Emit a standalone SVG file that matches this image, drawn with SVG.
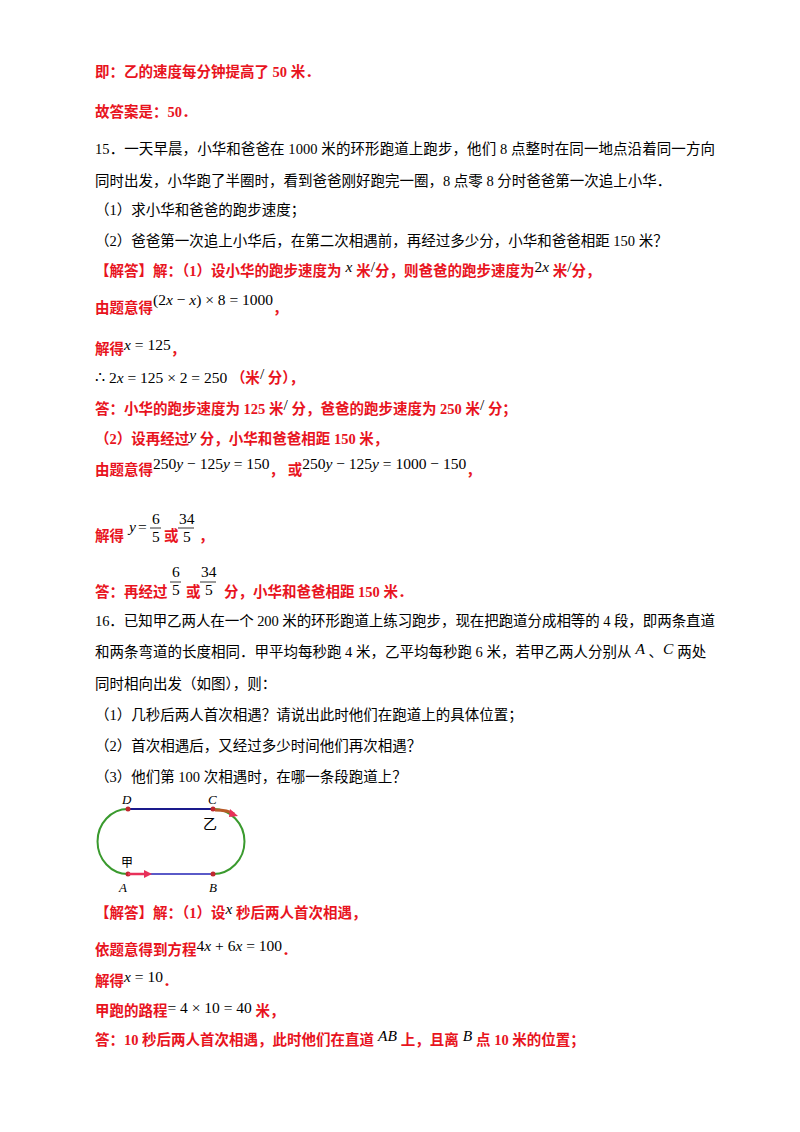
<svg xmlns="http://www.w3.org/2000/svg" width="800" height="1132" viewBox="0 0 800 1132">
<style>
text{font-family:"Liberation Serif","Noto Sans CJK SC",serif;font-size:14.5px;fill:#000}
.r{fill:#e8141e;font-weight:bold}
.m{font-family:"Liberation Serif",serif;font-weight:normal;fill:#000;font-size:15.5px}
.mi{font-family:"Liberation Serif",serif;font-style:italic;font-weight:normal;fill:#000;font-size:15.5px}
.lb{font-family:"Liberation Serif",serif;font-style:italic;font-size:13px}
</style>
<rect width="800" height="1132" fill="#fff"/>
<text class="r" x="95" y="77">即：乙的速度每分钟提高了 50 米．</text>
<text class="r" x="95" y="117">故答案是：50．</text>
<text x="95" y="154" textLength="620">15．一天早晨，小华和爸爸在 1000 米的环形跑道上跑步，他们 8 点整时在同一地点沿着同一方向</text>
<text x="95" y="186">同时出发，小华跑了半圈时，看到爸爸刚好跑完一圈，8 点零 8 分时爸爸第一次追上小华．</text>
<text x="95" y="215">（1）求小华和爸爸的跑步速度；</text>
<text x="95" y="246">（2）爸爸第一次追上小华后，在第二次相遇前，再经过多少分，小华和爸爸相距 150 米？</text>
<text class="r" x="95" y="276">【解答】解：（1）设小华的跑步速度为<tspan class="mi" dy="-4"> x </tspan><tspan dy="4">米</tspan><tspan class="m" dy="-4">/</tspan><tspan dy="4">分，则爸爸的跑步速度为</tspan><tspan class="m" dy="-4">2</tspan><tspan class="mi">x</tspan><tspan dy="4"> 米</tspan><tspan class="m" dy="-4">/</tspan><tspan dy="4">分，</tspan></text>
<text class="r" x="95" y="313">由题意得<tspan class="m" dy="-8">(2</tspan><tspan class="mi">x</tspan><tspan class="m"> − </tspan><tspan class="mi">x</tspan><tspan class="m">) × 8 = 1000</tspan><tspan dy="8">，</tspan></text>
<text class="r" x="95" y="354">解得<tspan class="mi" dy="-4">x</tspan><tspan class="m"> = 125</tspan><tspan dy="4">，</tspan></text>
<text class="r" x="95" y="383"><tspan class="m">∴ 2</tspan><tspan class="mi">x</tspan><tspan class="m"> = 125 × 2 = 250</tspan> （米<tspan class="m" dy="-4">/</tspan><tspan dy="4"> 分），</tspan></text>
<text class="r" x="95" y="414">答：小华的跑步速度为 125 米<tspan class="m" dy="-4">/</tspan><tspan dy="4"> 分，爸爸的跑步速度为 250 米</tspan><tspan class="m" dy="-4">/</tspan><tspan dy="4"> 分；</tspan></text>
<text class="r" x="95" y="444">（2）设再经过<tspan class="mi" dy="-4">y</tspan><tspan dy="4"> 分，小华和爸爸相距 150 米，</tspan></text>
<text class="r" x="95" y="475">由题意得<tspan class="m" dy="-6">250</tspan><tspan class="mi">y</tspan><tspan class="m"> − 125</tspan><tspan class="mi">y</tspan><tspan class="m"> = 150</tspan><tspan dy="6">， 或</tspan><tspan class="m" dy="-6">250</tspan><tspan class="mi">y</tspan><tspan class="m"> − 125</tspan><tspan class="mi">y</tspan><tspan class="m"> = 1000 − 150</tspan><tspan dy="6">，</tspan></text>
<text class="r" x="95" y="541">解得</text>
<text class="mi" x="129" y="532">y</text><text class="m" x="138" y="532">=</text>
<text class="m" x="152" y="524">6</text><line x1="150" y1="528" x2="161" y2="528" stroke="#000" stroke-width="0.8"/><text class="m" x="152" y="542">5</text>
<text class="r" x="164" y="541">或</text>
<text class="m" x="179" y="524">34</text><line x1="178" y1="528" x2="194" y2="528" stroke="#000" stroke-width="0.8"/><text class="m" x="183" y="542">5</text>
<text class="r" x="199" y="541">，</text>
<text class="r" x="95" y="597">答：再经过</text>
<text class="m" x="172" y="577">6</text><line x1="170" y1="582" x2="181" y2="582" stroke="#000" stroke-width="0.8"/><text class="m" x="172" y="595">5</text>
<text class="r" x="186" y="597">或</text>
<text class="m" x="201" y="577">34</text><line x1="200" y1="582" x2="216" y2="582" stroke="#000" stroke-width="0.8"/><text class="m" x="205" y="595">5</text>
<text class="r" x="224" y="597">分，小华和爸爸相距 150 米．</text>
<text x="95" y="626" textLength="620">16．已知甲乙两人在一个 200 米的环形跑道上练习跑步，现在把跑道分成相等的 4 段，即两条直道</text>
<text x="95" y="657">和两条弯道的长度相同．甲平均每秒跑 4 米，乙平均每秒跑 6 米，若甲乙两人分别从<tspan class="mi" dy="-3"> A </tspan><tspan dy="3">、</tspan><tspan class="mi" dy="-3">C </tspan><tspan dy="3">两处</tspan></text>
<text x="95" y="689">同时相向出发（如图），则：</text>
<text x="95" y="720">（1）几秒后两人首次相遇？请说出此时他们在跑道上的具体位置；</text>
<text x="95" y="751">（2）首次相遇后，又经过多少时间他们再次相遇？</text>
<text x="95" y="782">（3）他们第 100 次相遇时，在哪一条段跑道上？</text>
<g id="track">
<path d="M128 809 A30 32 0 0 0 128 874" fill="none" stroke="#3a9a2e" stroke-width="2"/>
<path d="M213 809 A31 32 0 0 1 213 874" fill="none" stroke="#3a9a2e" stroke-width="2"/>
<line x1="128" y1="809" x2="213" y2="809" stroke="#1a1a8c" stroke-width="2"/>
<line x1="128" y1="874" x2="213" y2="874" stroke="#5a5ac8" stroke-width="2"/>
<circle cx="128" cy="809" r="2.5" fill="#c0282e"/><circle cx="213" cy="809" r="2.5" fill="#c0282e"/>
<circle cx="128" cy="874" r="2.5" fill="#c0282e"/><circle cx="213" cy="874" r="2.5" fill="#c0282e"/>
<path d="M128 874 H146" stroke="#e8305a" stroke-width="2.5"/><path d="M144 870 L152 874 L144 878 Z" fill="#e8305a"/>
<path d="M215 810 Q228 810 234 814" stroke="#b85a28" stroke-width="3" fill="none"/><path d="M230 809 L238 816 L229 817 Z" fill="#e8305a"/>
<text class="lb" x="122" y="804">D</text><text class="lb" x="208" y="804">C</text>
<text x="203" y="829" style="font-family:'Noto Sans CJK SC',sans-serif;font-size:14px">乙</text>
<text x="121" y="867" style="font-family:'Noto Sans CJK SC',sans-serif;font-size:12px">甲</text>
<text class="lb" x="119" y="892">A</text><text class="lb" x="209" y="892">B</text>
</g>
<text class="r" x="95" y="918">【解答】解：（1）设<tspan class="mi" dy="-4">x</tspan><tspan dy="4"> 秒后两人首次相遇，</tspan></text>
<text class="r" x="95" y="955">依题意得到方程<tspan class="m" dy="-4">4</tspan><tspan class="mi">x</tspan><tspan class="m"> + 6</tspan><tspan class="mi">x</tspan><tspan class="m"> = 100</tspan><tspan dy="4">．</tspan></text>
<text class="r" x="95" y="986">解得<tspan class="mi" dy="-4">x</tspan><tspan class="m"> = 10</tspan><tspan dy="4">．</tspan></text>
<text class="r" x="95" y="1016">甲跑的路程<tspan class="m" dy="-3">= 4 × 10 = 40</tspan><tspan dy="3"> 米，</tspan></text>
<text class="r" x="95" y="1045">答：10 秒后两人首次相遇，此时他们在直道<tspan class="mi" dy="-4"> AB </tspan><tspan dy="4">上，且离</tspan><tspan class="mi" dy="-4"> B </tspan><tspan dy="4">点 10 米的位置；</tspan></text>
</svg>
